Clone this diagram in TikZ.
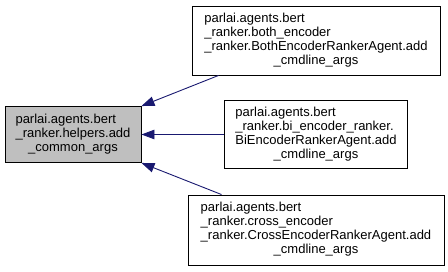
\documentclass[tikz,border=0pt]{standalone}
\usepackage{fontspec}
\setmainfont{Liberation Sans}
\usetikzlibrary{arrows.meta}
\definecolor{edgeblue}{HTML}{191970}
\definecolor{focusgray}{HTML}{BFBFBF}
\begin{document}
\begin{tikzpicture}[x=1pt,y=1pt,
  box/.style={draw=black, line width=0.9pt, fill=white, inner sep=0pt,
    font=\fontsize{13}{14}\selectfont},
  focus/.style={box, fill=focusgray},
  link/.style={draw=edgeblue, line width=0.9pt,
    -{Triangle[length=13pt,width=9.5pt]}}]
\useasboundingbox (0,0) rectangle (448,271);

% function whose callers are shown
\node[focus, minimum width=136pt, minimum height=56pt] (helpers) at (73,136.5)
  {\begin{tabular}{@{}l@{}}parlai.agents.bert\\\_ranker.helpers.add\\
   \multicolumn{1}{@{}c@{}}{\_common\_args}\end{tabular}};

% callers
\node[box, minimum width=248pt, minimum height=69pt] (both) at (316,230.5)
  {\begin{tabular}{@{}l@{}}parlai.agents.bert\\\_ranker.both\_encoder\\
   \_ranker.BothEncoderRankerAgent.add\\
   \multicolumn{1}{@{}c@{}}{\_cmdline\_args}\end{tabular}};
\node[box, minimum width=183pt, minimum height=68pt] (bi) at (316,136.5)
  {\begin{tabular}{@{}l@{}}parlai.agents.bert\\\_ranker.bi\_encoder\_ranker.\\
   BiEncoderRankerAgent.add\\
   \multicolumn{1}{@{}c@{}}{\_cmdline\_args}\end{tabular}};
\node[box, minimum width=256pt, minimum height=70pt] (cross) at (316,41)
  {\begin{tabular}{@{}l@{}}parlai.agents.bert\\\_ranker.cross\_encoder\\
   \_ranker.CrossEncoderRankerAgent.add\\
   \multicolumn{1}{@{}c@{}}{\_cmdline\_args}\end{tabular}};

% call edges
\draw[link] ([xshift=27pt]both.south west) -- (helpers.north east);
\draw[link] (bi.west) -- (helpers.east);
\draw[link] ([xshift=34pt]cross.north west) -- (helpers.south east);
\end{tikzpicture}
\end{document}
